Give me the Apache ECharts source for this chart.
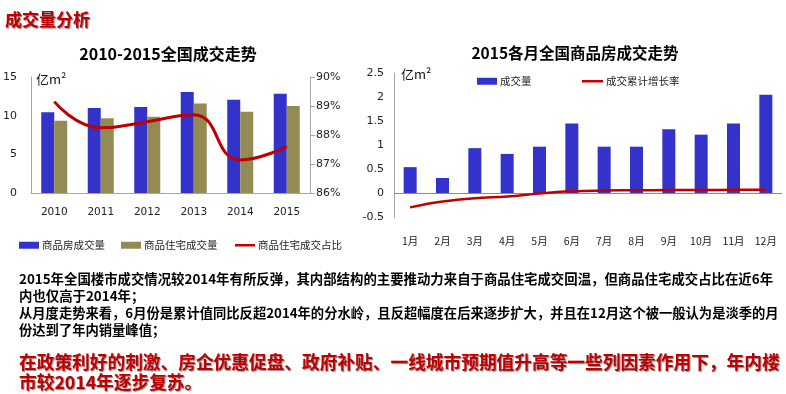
<!DOCTYPE html>
<html><head><meta charset="utf-8">
<script src="https://cdn.jsdelivr.net/npm/echarts@6/dist/echarts.min.js"></script>
<style>html,body{margin:0;padding:0;background:#fff;}#c{width:786px;height:394px;}</style>
</head><body><div id="c"></div>
<script>
var years = ['2010','2011','2012','2013','2014','2015'];
var totalArea = [10.43, 10.99, 11.13, 13.06, 12.06, 12.85];
var residArea = [9.34, 9.65, 9.85, 11.57, 10.52, 11.24];
var residShare = [89.15, 88.25, 88.46, 88.70, 87.14, 87.60];
var months = ['1月','2月','3月','4月','5月','6月','7月','8月','9月','10月','11月','12月'];
var monthArea = [0.545, 0.32, 0.94, 0.82, 0.97, 1.45, 0.97, 0.97, 1.33, 1.22, 1.45, 2.05];
var cumGrowth = [-0.29, -0.17, -0.10, -0.065, 0.0, 0.045, 0.06, 0.065, 0.07, 0.07, 0.075, 0.075];
var leftTicks = [0, 15, 5];
var shareTicks = [86, 90, 1];
var rightTicks = [-0.5, 2.5, 0.5];

var FF = '"Noto Sans CJK SC", "Noto Sans", sans-serif';
var AF = '"DejaVu Sans", sans-serif';
var chart = echarts.init(document.getElementById('c'), null, {renderer: 'canvas'});
var gray = '#a6a6a6';
var blue = '#3333CC', olive = '#948A54', red = '#C00000';

function txt(t, x, y, size, color, weight, extra) {
  var s = {text: t, x: x, y: y, fill: color, fontSize: size, fontWeight: weight || 'bold', fontFamily: FF, verticalAlign: 'middle', align: 'left'};
  if (extra) for (var k in extra) s[k] = extra[k];
  return {type: 'text', style: s, silent: true};
}
var legText = {fontSize: 10.5, color: '#222', fontFamily: FF, padding: [0,0,0,-2]};

var option = {
  animation: false,
  grid: [
    {left: 30, top: 77, width: 280, height: 116},
    {left: 394, top: 73, right: 4, height: 144.5}
  ],
  legend: [
    {left: 14, top: 235, itemWidth: 20, itemHeight: 7, itemGap: 16, textStyle: legText,
     data: [{name: '商品房成交量', icon: 'rect'}, {name: '商品住宅成交量', icon: 'rect'}]},
    {left: 230, top: 235, itemWidth: 20, itemHeight: 2.5, textStyle: legText,
     data: [{name: '商品住宅成交占比', icon: 'rect'}]},
    {left: 472, top: 71, itemWidth: 20, itemHeight: 7, textStyle: legText,
     data: [{name: '成交量', icon: 'rect'}]},
    {left: 577, top: 71, itemWidth: 21, itemHeight: 2.5, textStyle: legText,
     data: [{name: '成交累计增长率', icon: 'rect'}]}
  ],
  xAxis: [
    {type: 'category', gridIndex: 0, data: years,
     axisLine: {lineStyle: {color: gray}}, axisTick: {show: false},
     axisLabel: {margin: 14, fontSize: 10.5, color: '#222', fontFamily: AF}},
    {type: 'category', gridIndex: 1, data: months,
     axisLine: {show: false, onZero: false}, axisTick: {show: false},
     axisLabel: {margin: 18, fontSize: 10.5, color: '#222', fontFamily: FF}}
  ],
  yAxis: [
    {type: 'value', gridIndex: 0, min: leftTicks[0], max: leftTicks[1], interval: leftTicks[2],
     axisLine: {show: true, lineStyle: {color: gray}}, axisTick: {show: false}, splitLine: {show: false},
     axisLabel: {margin: 14, fontSize: 11, color: '#222', fontFamily: AF}},
    {type: 'value', gridIndex: 0, position: 'right', min: shareTicks[0], max: shareTicks[1], interval: shareTicks[2],
     axisLine: {show: true, lineStyle: {color: gray}}, axisTick: {show: true, length: 5, inside: false, lineStyle: {color: gray}}, splitLine: {show: false},
     axisLabel: {margin: 6, fontSize: 11, color: '#222', fontFamily: AF, formatter: '{value}%'}},
    {type: 'value', gridIndex: 1, min: rightTicks[0], max: rightTicks[1], interval: rightTicks[2],
     axisLine: {show: true, lineStyle: {color: gray}}, axisTick: {show: false}, splitLine: {show: false},
     axisLabel: {margin: 10, fontSize: 11, color: '#222', fontFamily: AF}}
  ],
  series: [
    {name: '商品房成交量', type: 'bar', xAxisIndex: 0, yAxisIndex: 0, data: totalArea, barWidth: 13, barGap: '0%',
     itemStyle: {color: blue}},
    {name: '商品住宅成交量', type: 'bar', xAxisIndex: 0, yAxisIndex: 0, data: residArea, barWidth: 13, barGap: '0%',
     itemStyle: {color: olive}},
    {name: '商品住宅成交占比', type: 'line', xAxisIndex: 0, yAxisIndex: 1, data: residShare, smooth: 0.5,
     symbol: 'none', lineStyle: {color: red, width: 3}, itemStyle: {color: red}},
    {name: '成交量', type: 'bar', xAxisIndex: 1, yAxisIndex: 2, data: monthArea, barWidth: 13,
     itemStyle: {color: blue},
     markLine: {silent: true, symbol: 'none', label: {show: false}, lineStyle: {color: '#8c8c8c', width: 1, type: 'solid'},
       data: [{yAxis: 0}]}},
    {name: '成交累计增长率', type: 'line', xAxisIndex: 1, yAxisIndex: 2, data: cumGrowth, smooth: 0.4,
     symbol: 'none', lineStyle: {color: red, width: 2.5}, itemStyle: {color: red}, z: 5}
  ],
  graphic: [
    txt('成交量分析', 5, 20, 17, red, 'bold', {textShadowColor: 'rgba(60,0,0,0.55)', textShadowBlur: 1, textShadowOffsetX: 1, textShadowOffsetY: 1}),
    txt('2010-2015全国成交走势', 168, 54, 16, '#000', 'bold', {align: 'center'}),
    txt('2015各月全国商品房成交走势', 575, 53, 15.5, '#000', 'bold', {align: 'center'}),
    txt('亿m²', 36, 79, 13, '#111', 'normal'),
    txt('亿m²', 401, 74, 13, '#111', 'normal'),
    txt('2015年全国楼市成交情况较2014年有所反弹，其内部结构的主要推动力来自于商品住宅成交回温，但商品住宅成交占比在近6年', 19, 279, 13.4, '#000', 'bold'),
    txt('内也仅高于2014年；', 19, 296, 13.4, '#000', 'bold'),
    txt('从月度走势来看，6月份是累计值同比反超2014年的分水岭，且反超幅度在后来逐步扩大，并且在12月这个被一般认为是淡季的月', 19, 313, 13.3, '#000', 'bold'),
    txt('份达到了年内销量峰值；', 19, 330, 13.3, '#000', 'bold'),
    txt('在政策利好的刺激、房企优惠促盘、政府补贴、一线城市预期值升高等一些列因素作用下，年内楼', 19, 362, 17.7, red, 'bold', {textShadowColor: 'rgba(60,0,0,0.5)', textShadowBlur: 1, textShadowOffsetX: 1, textShadowOffsetY: 1}),
    txt('市较2014年逐步复苏。', 19, 382, 17.7, red, 'bold', {textShadowColor: 'rgba(60,0,0,0.5)', textShadowBlur: 1, textShadowOffsetX: 1, textShadowOffsetY: 1})
  ]
};
chart.setOption(option);
</script></body></html>
